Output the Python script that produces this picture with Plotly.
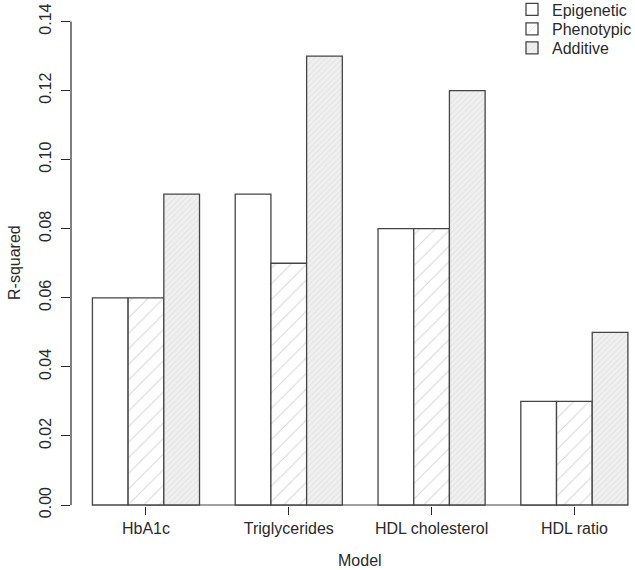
import plotly.graph_objects as go

categories = ["HbA1c", "Triglycerides", "HDL cholesterol", "HDL ratio"]
series_names = ["Epigenetic", "Phenotypic", "Additive"]
epigenetic = [0.06, 0.09, 0.08, 0.03]
phenotypic = [0.06, 0.07, 0.08, 0.03]
additive = [0.09, 0.13, 0.12, 0.05]
y_ticks = [0.00, 0.02, 0.04, 0.06, 0.08, 0.10, 0.12, 0.14]
y_ticktext = ["0.00", "0.02", "0.04", "0.06", "0.08", "0.10", "0.12", "0.14"]

group_pos = [2.5 + 4 * i for i in range(len(categories))]

FONT = "Liberation Sans, Arial, sans-serif"
TXT = "#2a2a2a"
EDGE = "#454545"

W, H = 635, 570
L, T, B = 71, 2, 64
PX_PER_UNIT_X = 35.7
PX_PER_UNIT_Y = 3453.6
ZERO_PX = 505

styles = [
    dict(color="white", pattern=dict(shape="")),
    dict(color="white", pattern=dict(shape="/", size=11, solidity=0.09,
                                     fgcolor="#b0b0b0", bgcolor="white")),
    dict(color="#ededed", pattern=dict(shape="/", size=4, solidity=0.25,
                                       fgcolor="#d4d4d4", bgcolor="#f0f0f0")),
]
legend_ids = ["legend", "legend2", "legend3"]
legend_rows_px = [9.5, 29, 48]

fig = go.Figure()
for name, vals, st, lid in zip(series_names, [epigenetic, phenotypic, additive], styles, legend_ids):
    fig.add_trace(go.Bar(
        x=group_pos, y=vals, name=name, legend=lid,
        marker=dict(color=st["color"], pattern=st["pattern"],
                    line=dict(color=EDGE, width=1.3)),
    ))

plot_w = W - L
plot_h = H - T - B
y_lo = -(H - B - ZERO_PX) / PX_PER_UNIT_Y
y_hi = y_lo + plot_h / PX_PER_UNIT_Y

legend_common = dict(xanchor="left", yanchor="middle",
                     bgcolor="rgba(0,0,0,0)", font=dict(size=16, color=TXT),
                     itemwidth=30, borderwidth=0)
layout_legends = {}
for lid, ypx in zip(legend_ids, legend_rows_px):
    layout_legends[lid] = dict(legend_common, x=(512 - L) / plot_w,
                               y=((H - B) - ypx) / plot_h)

fig.update_layout(
    width=W, height=H,
    margin=dict(l=L, r=0, t=T, b=B, autoexpand=False),
    paper_bgcolor="white", plot_bgcolor="white",
    barmode="group", bargap=0.25, bargroupgap=0,
    font=dict(family=FONT, size=16, color=TXT),
    showlegend=True,
    xaxis=dict(range=[0.4, 0.4 + plot_w / PX_PER_UNIT_X], tickvals=group_pos, ticktext=categories,
               ticks="outside", ticklen=8, tickwidth=1.2, tickcolor=TXT,
               showline=False, showgrid=False, zeroline=False),
    yaxis=dict(range=[y_lo, y_hi],
               tickvals=y_ticks, ticktext=y_ticktext, tickangle=-90,
               ticks="outside", ticklen=9, tickwidth=1.2, tickcolor=TXT,
               ticklabelstandoff=4,
               showline=False, showgrid=False, zeroline=False),
    **layout_legends,
)

# R-style axis lines spanning only the tick range
fig.add_shape(type="line", xref="paper", yref="y", x0=0, x1=0, y0=0, y1=0.14,
              line=dict(color=TXT, width=1.2))
fig.add_shape(type="line", xref="x", yref="y", x0=group_pos[0], x1=group_pos[-1],
              y0=0, y1=0, line=dict(color=EDGE, width=1.2), layer="below")

fig.add_annotation(text="Model", xref="paper", yref="paper", x=(360 - L) / plot_w,
                   y=-(560 - (H - B)) / plot_h, showarrow=False, yanchor="middle",
                   font=dict(size=16, color=TXT))
fig.add_annotation(text="R-squared", xref="paper", yref="paper", x=-(L - 15) / plot_w,
                   y=((H - B) - 263) / plot_h, showarrow=False, textangle=-90,
                   xanchor="center", yanchor="middle", font=dict(size=16, color=TXT))

fig.write_html("out.html", config={"displayModeBar": False},
               post_script="document.body.style.margin='0px';")
